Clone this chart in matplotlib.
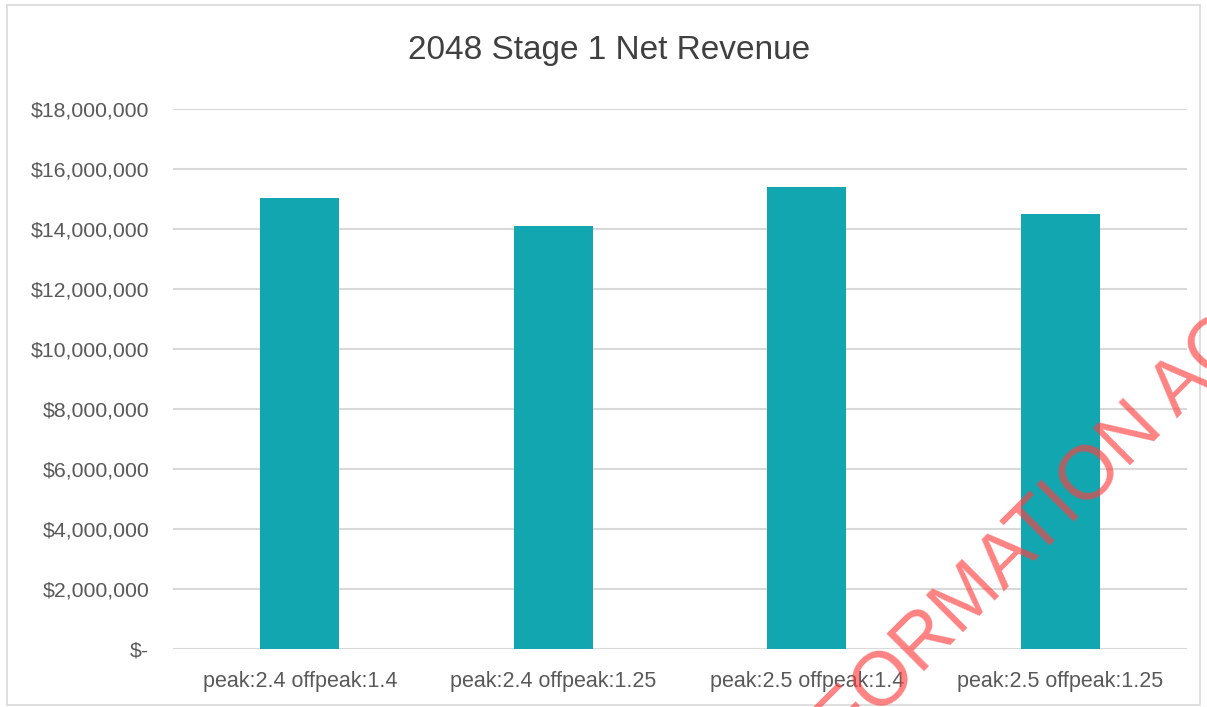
import matplotlib.pyplot as plt
from matplotlib.patches import Rectangle
from matplotlib.ticker import FuncFormatter

plt.rcParams['font.family'] = ['Liberation Sans', 'DejaVu Sans']

# Values
scenarios = ["peak:2.4 offpeak:1.4", "peak:2.4 offpeak:1.25",
             "peak:2.5 offpeak:1.4", "peak:2.5 offpeak:1.25"]
revenue = [15030000, 14110000, 15410000, 14490000]
y_ticks = [0, 2000000, 4000000, 6000000, 8000000, 10000000,
           12000000, 14000000, 16000000, 18000000]


def dollars(v, pos):
    if v == 0:
        return "$-"
    return "${:,.0f}".format(v)


fig = plt.figure(figsize=(12.07, 7.07), dpi=100)
ax = fig.add_axes([0.1433, 0.082, 0.8401, 0.7638])

ax.bar(range(len(scenarios)), revenue, width=0.31, color="#12A6B0", zorder=3)
ax.set_xlim(-0.5, len(scenarios) - 0.5)
ax.set_ylim(0, 18000000)
ax.set_yticks(y_ticks)
ax.yaxis.set_major_formatter(FuncFormatter(dollars))
ax.set_xticks(range(len(scenarios)))
ax.set_xticklabels(scenarios)
ax.grid(axis="y", color="#D9D9D9", linewidth=1.5, zorder=0)
for s in ax.spines.values():
    s.set_visible(False)
ax.tick_params(length=0, labelsize=15.5, labelcolor="#595959")
ax.tick_params(axis="y", labelsize=15.3, pad=17)
ax.tick_params(axis="x", pad=16)

fig.text(0.505, 0.928, "2048 Stage 1 Net Revenue", ha="center", va="center",
         fontsize=24, color="#404040")

# chart frame
fig.patches.append(Rectangle((0.006, 0.003), 0.988, 0.99, transform=fig.transFigure,
                             fill=False, edgecolor="#D9D9D9", linewidth=1.2))

# watermark, runs off the bottom and right edges
fig.text(0.6553, -0.137, "INFORMATION AC", rotation=45, ha="left", va="baseline",
         fontsize=55, color="#FF4040", alpha=0.65, rotation_mode="anchor")

fig.savefig("out.png", dpi=100)
